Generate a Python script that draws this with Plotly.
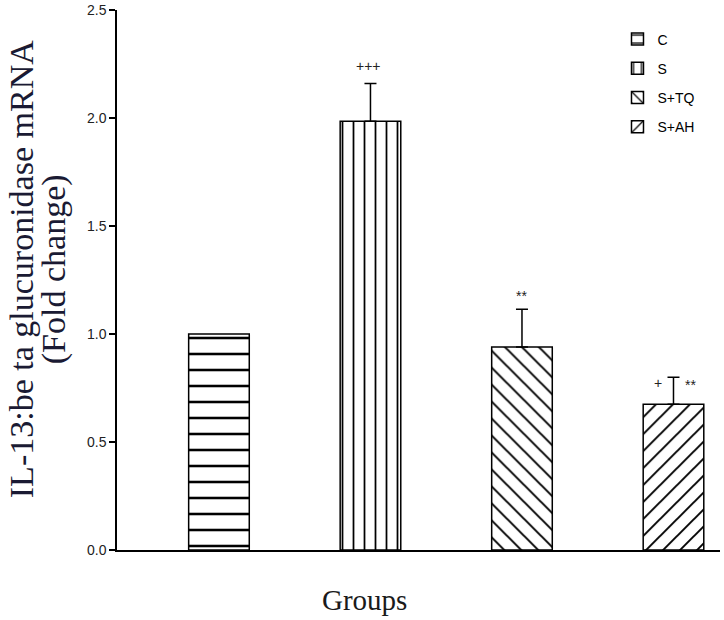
import plotly.graph_objects as go

groups = ["C", "S", "S+TQ", "S+AH"]
fold_change = [1.0, 1.985, 0.94, 0.675]
err_upper = [0.0, 0.175, 0.175, 0.125]
patterns = ["-", "|", "\\", "/"]
pattern_sizes = [16, 11, 12, 12]

fig = go.Figure()
for i, g in enumerate(groups):
    fig.add_trace(
        go.Bar(
            x=[i],
            y=[fold_change[i]],
            name=g,
            legendgroup=g,
            width=0.4,
            marker=dict(
                color="white",
                line=dict(color="black", width=1.5),
                pattern=dict(
                    shape=patterns[i],
                    size=pattern_sizes[i],
                    solidity=0.16,
                    fgcolor="black",
                    fgopacity=1,
                    bgcolor="white",
                ),
            ),
            error_y=dict(
                type="data",
                symmetric=False,
                array=[err_upper[i]],
                arrayminus=[0],
                color="black",
                thickness=1.5,
                width=6,
                visible=err_upper[i] > 0,
            ),
        )
    )

# significance marks
marks = [
    (0.99, 2.24, "+++"),
    (2.0, 1.175, "**"),
    (2.9, 0.775, "+"),
    (3.11, 0.765, "**"),
]
for mx, my, txt in marks:
    fig.add_annotation(
        x=mx, y=my, text=txt, showarrow=False,
        font=dict(family="Arial", size=14, color="#222222"),
    )

# axis titles as annotations (two-line y title, off-centre x title)
title_font = dict(family="Liberation Serif", size=34, color="#1a1a33")
fig.add_annotation(
    text="IL-13:be ta glucuronidase mRNA", xref="paper", yref="paper",
    x=0, y=0.52, xshift=-96, textangle=-90, showarrow=False,
    xanchor="center", yanchor="middle", font=title_font,
)
fig.add_annotation(
    text="(Fold change)", xref="paper", yref="paper",
    x=0, y=0.52, xshift=-63, textangle=-90, showarrow=False,
    xanchor="center", yanchor="middle", font=title_font,
)
fig.add_annotation(
    text="Groups", xref="paper", yref="paper",
    x=0.411, y=0, yshift=-50, showarrow=False,
    xanchor="center", yanchor="middle",
    font=dict(family="Liberation Serif", size=29, color="#1a1a1a"),
)

fig.update_layout(
    width=724,
    height=620,
    margin=dict(l=117, r=4, t=10, b=70),
    plot_bgcolor="white",
    paper_bgcolor="white",
    barmode="overlay",
    showlegend=True,
    legend=dict(
        x=0.83, y=0.975, xanchor="left", yanchor="top",
        font=dict(family="Arial", size=14, color="black"),
        bgcolor="rgba(0,0,0,0)",
        tracegroupgap=8,
    ),
    font=dict(family="Arial", size=14, color="#333333"),
)
fig.update_xaxes(
    range=[-0.673, 3.307],
    showticklabels=False,
    ticks="",
    showline=True,
    linecolor="black",
    linewidth=1.5,
    showgrid=False,
    zeroline=False,
    automargin=False,
)
fig.update_yaxes(
    range=[0, 2.5],
    tickvals=[0, 0.5, 1.0, 1.5, 2.0, 2.5],
    tickformat=".1f",
    ticks="outside",
    ticklen=6,
    tickwidth=1.5,
    tickcolor="black",
    showline=True,
    linecolor="black",
    linewidth=1.5,
    showgrid=False,
    zeroline=False,
    automargin=False,
    tickfont=dict(family="Arial", size=14, color="#222222"),
)

# page body has a default 8px margin; drop it so the figure sits at the corner
fig.write_html(
    "out.html",
    config={"displayModeBar": False},
    post_script="document.body.style.margin = '0';",
)
